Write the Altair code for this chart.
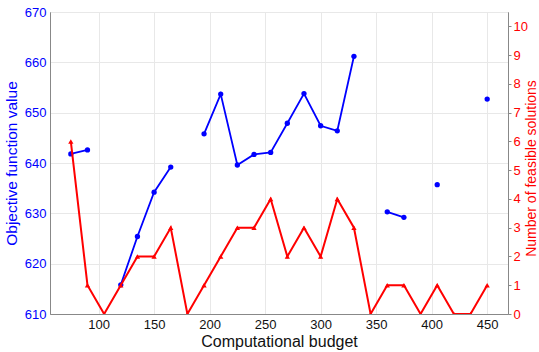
import altair as alt
import pandas as pd

# Computational budget values (x axis)
budget = [75, 90, 105, 120, 135, 150, 165, 180, 195, 210, 225, 240, 255,
          270, 285, 300, 315, 330, 345, 360, 375, 390, 405, 420, 435, 450]

# Best objective function value found (None where no feasible solution)
objective = [641.8, 642.6, None, 615.8, 625.4, 634.2, 639.2, None, 645.8, 653.7,
             639.6, 641.7, 642.1, 647.9, 653.8, 647.4, 646.4, 661.2, None, 630.3,
             629.2, None, 635.7, None, None, 652.7]

# Number of feasible solutions
feasible = [6, 1, 0, 1, 2, 2, 3, 0, 1, 2, 3, 3, 4, 2, 3, 2, 4, 3, 0, 1, 1, 0, 1, 0, 0, 1]

# split the objective series into contiguous runs so the line breaks at gaps
seg, s = [], 0
for v in objective:
    if v is None:
        s += 1
    seg.append(s)

df = pd.DataFrame({"budget": budget, "objective": objective,
                   "feasible": feasible, "seg": seg})
df_obj = df.dropna(subset=["objective"])

FONT = "Liberation Sans"
BLUE = "#0000ff"
RED = "#ff0000"

x_enc = alt.X("budget:Q",
              scale=alt.Scale(domain=[56.25, 468.75], nice=False, zero=False),
              axis=alt.Axis(title="Computational budget", values=[100, 150, 200, 250, 300, 350, 400, 450],
                            grid=True, gridColor="#e8e8e8", ticks=False, labelPadding=4,
                            labelFontSize=13, labelColor="#111111", titleFontSize=16,
                            titleFontWeight="normal", titleColor="#111111", titlePadding=2,
                            domainColor="#888888", labelFont=FONT, titleFont=FONT))

y_obj_scale = alt.Scale(domain=[610, 670], nice=False, zero=False)
y_obj_axis = alt.Axis(title="Objective function value", orient="left",
                      values=[610, 620, 630, 640, 650, 660, 670], grid=True,
                      gridColor="#e8e8e8", ticks=False, labelPadding=4, labelFontSize=13,
                      labelColor=BLUE, titleColor=BLUE, titleFontSize=15.5,
                      titleFontWeight="normal", titlePadding=5, domainColor="#888888",
                      labelFont=FONT, titleFont=FONT)
y_obj = alt.Y("objective:Q", scale=y_obj_scale, axis=y_obj_axis)

obj_line = alt.Chart(df_obj).mark_line(color=BLUE, strokeWidth=1.8).encode(
    x=x_enc, y=y_obj, detail="seg:N",
)
obj_pts = alt.Chart(df_obj).mark_point(color=BLUE, filled=True, size=28, opacity=1).encode(
    x=x_enc, y=y_obj,
)
obj_layer = alt.layer(obj_line, obj_pts)

y_feas_scale = alt.Scale(domain=[0, 10.5], nice=False, zero=True)
y_feas_axis = alt.Axis(title="Number of feasible solutions", orient="right",
                       values=list(range(0, 11)), grid=False, ticks=True, tickSize=3,
                       tickColor="#888888", labelPadding=2, labelFontSize=13,
                       labelColor=RED, titleColor=RED, titleFontSize=14,
                       titleFontWeight="normal", titleAngle=270,
                       titleX=23, titleY=156, titleAlign="center", titleBaseline="middle",
                       domainColor="#888888", labelFont=FONT, titleFont=FONT)
y_feas = alt.Y("feasible:Q", scale=y_feas_scale, axis=y_feas_axis)

feas_line = alt.Chart(df).mark_line(color=RED, strokeWidth=2, clip=True).encode(
    x=x_enc, y=y_feas,
)
feas_pts = alt.Chart(df).mark_point(color=RED, filled=True, shape="triangle-up",
                                    size=28, opacity=1, clip=True).encode(
    x=x_enc, y=y_feas,
)
feas_layer = alt.layer(feas_line, feas_pts)

chart = alt.layer(obj_layer, feas_layer).resolve_scale(y="independent").properties(
    width=458, height=302,
    autosize=alt.AutoSizeParams(type="none"),
    padding={"left": 50, "top": 12, "right": 31, "bottom": 38},
    background="white",
).configure_view(stroke="#888888", strokeWidth=1)

chart.save("out.html", embed_options={"renderer": "svg", "actions": False})
